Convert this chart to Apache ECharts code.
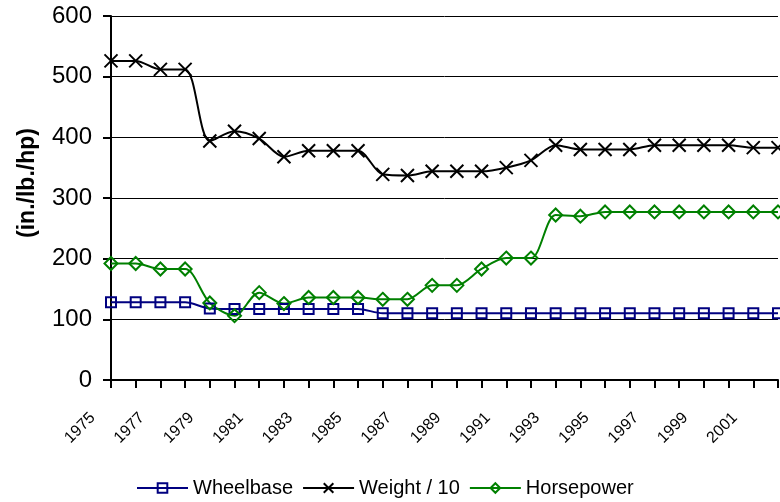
<!DOCTYPE html>
<html>
<head>
<meta charset="utf-8">
<script src="https://cdn.jsdelivr.net/npm/echarts@6/dist/echarts.min.js"></script>
<style>
  html, body { margin: 0; padding: 0; background: #fff; }
  #my { width: 780px; height: 502px; }
</style>
</head>
<body>
<div id="my"></div>
<script>
var years = ['1975', '1976', '1977', '1978', '1979', '1980', '1981', '1982', '1983', '1984',
  '1985', '1986', '1987', '1988', '1989', '1990', '1991', '1992', '1993', '1994',
  '1995', '1996', '1997', '1998', '1999', '2000', '2001', '2002'];

var wheelbase = [128, 128, 128, 128, 118, 117, 117, 117, 117, 117,
  117, 110, 110, 110, 110, 110, 110, 110, 110, 110,
  110, 110, 110, 110, 110, 110, 110, 110];

var weight10 = [526, 526, 512, 512, 394, 410, 398, 368, 378, 378,
  378, 339, 337, 344, 344, 344, 350, 362, 387, 380,
  380, 380, 387, 387, 387, 387, 383, 383];

var horsepower = [192, 192, 183, 183, 127, 106, 144, 126, 136, 136,
  136, 133, 133, 156, 156, 183, 201, 201, 272, 270,
  277, 277, 277, 277, 277, 277, 277, 277];

var myChart = echarts.init(document.getElementById('my'));

var font = 'Liberation Sans, Arial, sans-serif';

// cross marker for the weight series
var cross = 'path://M0,0L10,10M10,0L0,10';

var option = {
  animation: false,
  textStyle: { fontFamily: font },
  grid: { left: 111, right: 2, top: 16, bottom: 122 },
  legend: {
    left: 131,
    top: 473,
    itemWidth: 51,
    itemHeight: 12,
    itemGap: 9,
    textStyle: { fontSize: 20, color: '#000', fontFamily: font },
    data: ['Wheelbase', 'Weight / 10', 'Horsepower']
  },
  xAxis: {
    type: 'category',
    boundaryGap: false,
    data: years,
    axisLine: { lineStyle: { color: '#000', width: 2 } },
    axisTick: { interval: 0, length: 8, lineStyle: { color: '#000', width: 2 } },
    axisLabel: {
      interval: 1,
      rotate: 45,
      margin: 17,
      padding: [0, 26, 0, 0],
      fontSize: 16,
      color: '#000',
      fontFamily: font
    },
    splitLine: { show: false }
  },
  yAxis: {
    type: 'value',
    min: 0,
    max: 600,
    interval: 100,
    name: '(in./lb./hp)',
    nameLocation: 'middle',
    nameGap: 72,
    nameRotate: 90,
    nameTextStyle: { fontSize: 23, fontWeight: 'bold', color: '#000', fontFamily: font, padding: [0, 0, 0, 30] },
    axisLine: { show: true, lineStyle: { color: '#000', width: 2 } },
    axisTick: { show: true, length: 8, lineStyle: { color: '#000', width: 2 } },
    axisLabel: { fontSize: 24, color: '#000', margin: 19, fontFamily: font },
    splitLine: { lineStyle: { color: '#000', width: 1 } }
  },
  series: [
    {
      name: 'Wheelbase',
      type: 'line',
      data: wheelbase,
      smooth: 0.3,
      symbol: 'rect',
      symbolSize: 10,
      lineStyle: { color: '#000080', width: 2 },
      itemStyle: { color: 'rgba(0,0,0,0)', borderColor: '#000080', borderWidth: 2 }
    },
    {
      name: 'Weight / 10',
      type: 'line',
      data: weight10,
      smooth: 0.3,
      symbol: cross,
      symbolSize: 13,
      lineStyle: { color: '#000', width: 2 },
      itemStyle: { color: 'rgba(0,0,0,0)', borderColor: '#000', borderWidth: 2 }
    },
    {
      name: 'Horsepower',
      type: 'line',
      data: horsepower,
      smooth: 0.3,
      symbol: 'diamond',
      symbolSize: 13,
      lineStyle: { color: '#008000', width: 2 },
      itemStyle: { color: 'rgba(0,0,0,0)', borderColor: '#008000', borderWidth: 2 }
    }
  ]
};

myChart.setOption(option);
</script>
</body>
</html>
